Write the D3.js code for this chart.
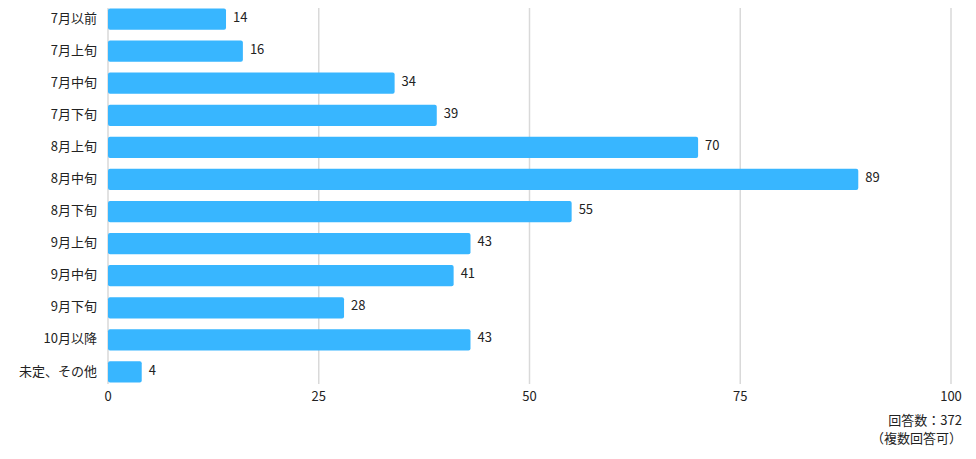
<!DOCTYPE html>
<html><head><meta charset="utf-8">
<script src="https://cdn.jsdelivr.net/npm/d3@7"></script>
<style>body{margin:0;background:#fff;}svg{display:block;font-family:"Noto Sans CJK JP","Noto Sans",sans-serif;}</style>
</head><body><svg id="c" width="976" height="459"></svg>
<script>
const categories = ["7月以前","7月上旬","7月中旬","7月下旬","8月上旬","8月中旬","8月下旬","9月上旬","9月中旬","9月下旬","10月以降","未定、その他"];
const values = [14,16,34,39,70,89,55,43,41,28,43,4];
const tickValues = [0,25,50,75,100];
const noteLines = ["回答数：372","（複数回答可）"];

const svg = d3.select("#c");
const x = d3.scaleLinear().domain([0,100]).range([108,951]);
const y = d3.scaleBand().domain(categories).range([3,388]).paddingInner(0.34).paddingOuter(0.17);

svg.append("g").selectAll("line").data(tickValues).join("line")
  .attr("x1",d=>x(d)).attr("x2",d=>x(d)).attr("y1",8).attr("y2",384)
  .attr("stroke","#d9d9d9").attr("stroke-width",1.5);

svg.append("g").selectAll("rect").data(values).join("rect")
  .attr("x",x(0)).attr("y",(d,i)=>y(categories[i]))
  .attr("width",d=>x(d)-x(0)).attr("height",y.bandwidth())
  .attr("rx",2).attr("fill","#38b6ff");

svg.append("g").selectAll("text").data(values).join("text")
  .attr("x",d=>x(d)+7).attr("y",(d,i)=>y(categories[i])+y.bandwidth()/2-2)
  .attr("dy","0.35em").attr("font-size",13).attr("fill","#222").text(d=>d);

svg.append("g").selectAll("text").data(categories).join("text")
  .attr("x",97).attr("y",d=>y(d)+y.bandwidth()/2-1).attr("dy","0.35em")
  .attr("text-anchor","end").attr("font-size",13).attr("fill","#222").text(d=>d);

svg.append("g").selectAll("text").data(tickValues).join("text")
  .attr("x",d=>x(d)).attr("y",396).attr("dy","0.35em")
  .attr("text-anchor","middle").attr("font-size",13).attr("fill","#222").text(d=>d);

svg.append("g").selectAll("text").data(noteLines).join("text")
  .attr("x",962).attr("y",(d,i)=>420+i*18).attr("dy","0.35em")
  .attr("text-anchor","end").attr("font-size",13).attr("fill","#222").text(d=>d);
</script></body></html>
